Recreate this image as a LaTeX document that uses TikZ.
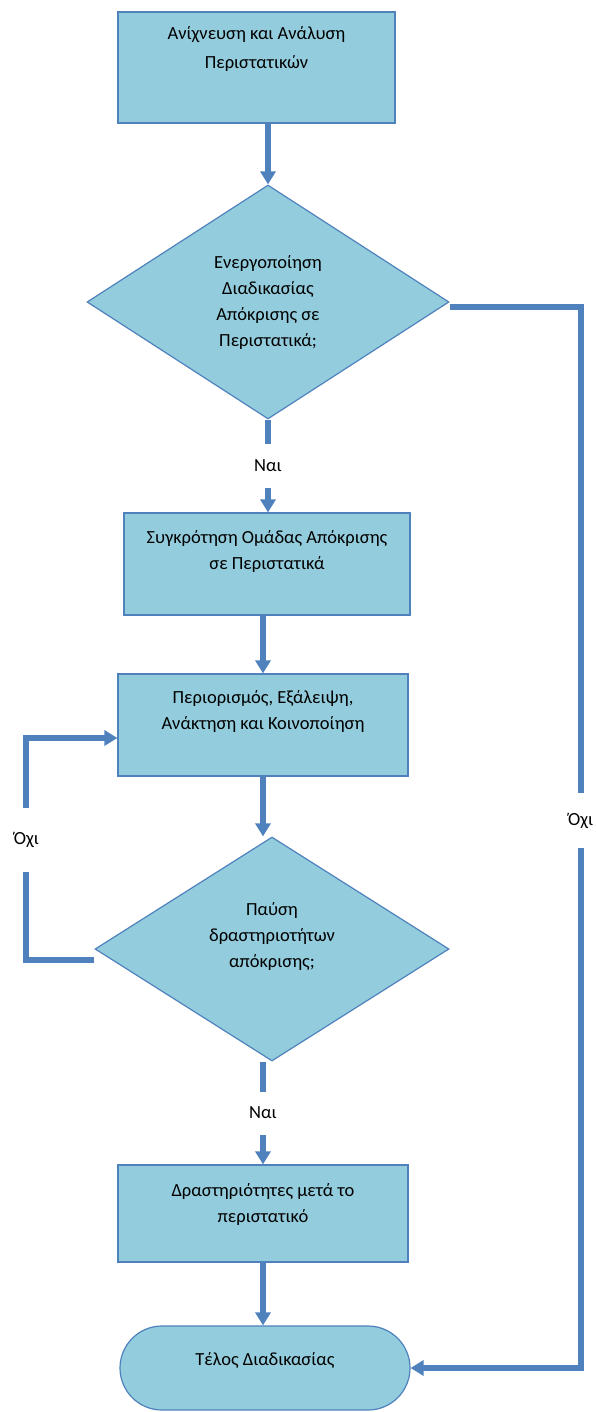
\documentclass[tikz,border=0pt]{standalone}
\usepackage{fontspec}
\setmainfont{Carlito}
\usetikzlibrary{shapes.geometric,arrows.meta}
\definecolor{boxfill}{HTML}{93CDDD}
\definecolor{boxline}{HTML}{4F81BD}

\begin{document}
\begin{tikzpicture}[x=1pt,y=-1pt,
    every node/.style={font=\fontsize{18.5}{26}\selectfont},
    box/.style={draw=boxline,line width=1.2pt,fill=boxfill,rectangle,inner sep=0pt},
    decision/.style={draw=boxline,line width=1.2pt,fill=boxfill,diamond,inner sep=0pt},
    txt/.style={anchor=north,align=center,inner sep=0pt},
    flow/.style={draw=boxline,line width=6pt,-{Triangle[width=15pt,length=13pt]}},
    answer/.style={fill=white,inner sep=0pt,minimum height=44pt}]
    \useasboundingbox (0,0) rectangle (595,1412);
    \node[box,minimum width=277pt,minimum height=111pt,
        label={[txt,yshift=-15pt,font=\fontsize{18.5}{29}\selectfont]north:Ανίχνευση και Ανάλυση\\Περιστατικών}] (detect) at (256.5,67.5) {};
    \node[decision,minimum width=362pt,minimum height=234pt,
        label={[align=center,inner sep=0pt]center:Ενεργοποίηση\\Διαδικασίας\\Απόκρισης σε\\Περιστατικά;}] (start) at (268,302) {};
    \node[box,minimum width=286pt,minimum height=102pt,
        label={[txt,yshift=-18pt]north:Συγκρότηση Ομάδας Απόκρισης\\σε Περιστατικά}] (team) at (267,564) {};
    \node[box,minimum width=290pt,minimum height=102pt,
        label={[txt,yshift=-17pt]north:Περιορισμός, Εξάλειψη,\\Ανάκτηση και Κοινοποίηση}] (contain) at (263,725) {};
    \node[decision,minimum width=354pt,minimum height=224pt,
        label={[align=center,inner sep=0pt,yshift=13pt]center:Παύση\\δραστηριοτήτων\\απόκρισης;}] (stop) at (272,949) {};
    \node[box,minimum width=290pt,minimum height=97pt,
        label={[txt,yshift=-19pt]north:Δραστηριότητες μετά το\\περιστατικό}] (after) at (263,1213.5) {};
    \node[box,rounded corners=42pt,minimum width=290pt,minimum height=84pt,
        label={[txt,yshift=-27pt]north:Τέλος Διαδικασίας}] (finish) at (265,1368) {};

    \draw[flow] (detect.south -| start.north) -- (start.north);
    \draw[flow] (start.south) -- node[answer]{Ναι} (team.north -| start.south);
    \draw[flow] (contain.north |- team.south) -- (contain.north);
    \draw[flow] (contain.south) -- (contain.south |- stop.north);
    \draw[flow] (stop.south -| after.north) -- node[answer,minimum height=43pt]{Ναι} (after.north);
    \draw[flow] (after.south) -- (after.south |- finish.north);
    \draw[flow] ([yshift=-11pt]stop.west) -- ++(-68,0) |- node[answer,pos=0.27,minimum height=64pt]{Όχι} ([yshift=-13pt]contain.west);
    \draw[flow] ([yshift=-5pt]start.east) -- ++(131,0) |- node[answer,pos=0.242,minimum height=55pt]{Όχι} (finish.east);
\end{tikzpicture}
\end{document}
